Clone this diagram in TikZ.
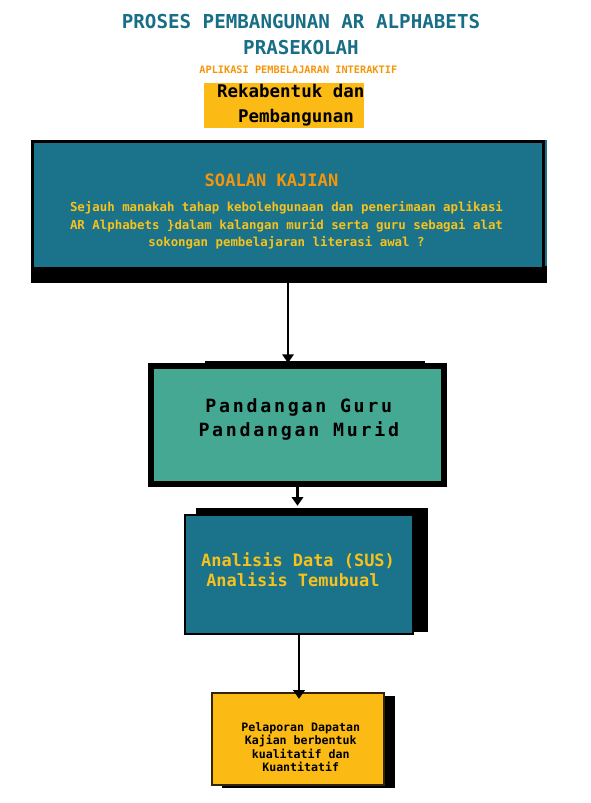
\documentclass[tikz,border=0pt]{standalone}
\usepackage{fontspec}
\setmainfont{DejaVu Sans Mono}
\newfontfamily\spacedmono[LetterSpace=15]{DejaVu Sans Mono}
\usetikzlibrary{arrows.meta}

\definecolor{kajianteal}{RGB}{26,114,139}
\definecolor{titleteal}{RGB}{24,110,134}
\definecolor{pandangangreen}{RGB}{69,168,147}
\definecolor{reportyellow}{RGB}{251,187,20}
\definecolor{titleorange}{RGB}{245,150,10}
\definecolor{bodyyellow}{RGB}{247,194,28}

\begin{document}
\begin{tikzpicture}[x=0.75pt,y=-0.75pt,
  boxstyle/.style={rectangle, inner sep=0pt, draw=black},
  flowarrow/.style={line width=2pt, -{Triangle[width=8.5pt,length=6.5pt]}},
  boldtext/.style={align=center, inner sep=0pt, font=\bfseries\fontsize{#1}{#1}\selectfont}]

\useasboundingbox (0,0) rectangle (590,803);

% heading
\node [boldtext=14.4, text=titleteal, font=\bfseries\fontsize{14.4}{19.5}\selectfont] (title) at (301,34.7) {PROSES PEMBANGUNAN AR ALPHABETS\\PRASEKOLAH};
\node [boldtext=7.7, text=titleorange] (subtitle) at (298.3,69.7) {APLIKASI PEMBELAJARAN INTERAKTIF};
\node [rectangle, fill=reportyellow, minimum width=120pt, minimum height=33.75pt] (rekabox) at (284,105.5) {};
\node [boldtext=13.1, font=\bfseries\fontsize{13.1}{18.75}\selectfont] (rekatext) at (296,105.2) {Rekabentuk dan\hphantom{x}\\Pembangunan};

% soalan kajian
\fill [kajianteal] (33,140) rectangle (547,268);
\fill [black] (31,266) rectangle (547,283);
\node [boxstyle, fill=kajianteal, line width=2.25pt, minimum width=383.25pt, minimum height=95.25pt] (kajian) at (288,204.5) {};
\node [boldtext=12.8, text=titleorange] (kajianhead) at (271.5,180.7) {SOALAN KAJIAN};
\node [boldtext=9.3, text=bodyyellow, font=\bfseries\fontsize{9.3}{13.1}\selectfont] (kajianbody) at (286.5,225.5) {Sejauh manakah tahap kebolehgunaan dan penerimaan aplikasi\\AR Alphabets \}dalam kalangan murid serta guru sebagai alat\\sokongan pembelajaran literasi awal ?};

% pandangan
\draw [line width=1.5pt] (205,362) -- (425,362);
\node [boxstyle, fill=pandangangreen, line width=4.5pt, minimum width=219.75pt, minimum height=88.5pt] (pandangan) at (297.5,425) {};
\node [align=center, inner sep=0pt, font=\spacedmono\bfseries\fontsize{13.7}{18.3}\selectfont] (pandangantext) at (298.8,419.5) {Pandangan Guru\\Pandangan Murid};

% analisis
\fill [black] (196,508) rectangle (428,632);
\node [boxstyle, fill=kajianteal, line width=1.8pt, minimum width=171pt, minimum height=89.25pt] (analisis) at (299,574.5) {};
\node [boldtext=12.7, text=bodyyellow, font=\bfseries\fontsize{12.7}{14.6}\selectfont] (analisistext) at (298,569.5) {Analisis Data (SUS)\\Analisis Temubual\hphantom{x}};

% laporan
\fill [black] (222,696) rectangle (395,788);
\node [boxstyle, draw=black!80!reportyellow, fill=reportyellow, line width=1.2pt, minimum width=129pt, minimum height=69pt] (laporan) at (298,739) {};
\node [boldtext=8.7, font=\bfseries\fontsize{8.7}{10.1}\selectfont] (laporantext) at (300.7,747) {Pelaporan Dapatan\\Kajian berbentuk\\kualitatif dan\\Kuantitatif};

% arrows
\draw [flowarrow] (kajian.south) -- (kajian.south |- pandangan.north);
\draw [flowarrow, shorten >=6pt] (pandangan.south) -- (pandangan.south |- analisis.north);
\draw [flowarrow, shorten >=-5pt] (analisis.south) -- (analisis.south |- laporan.north);

\end{tikzpicture}
\end{document}
